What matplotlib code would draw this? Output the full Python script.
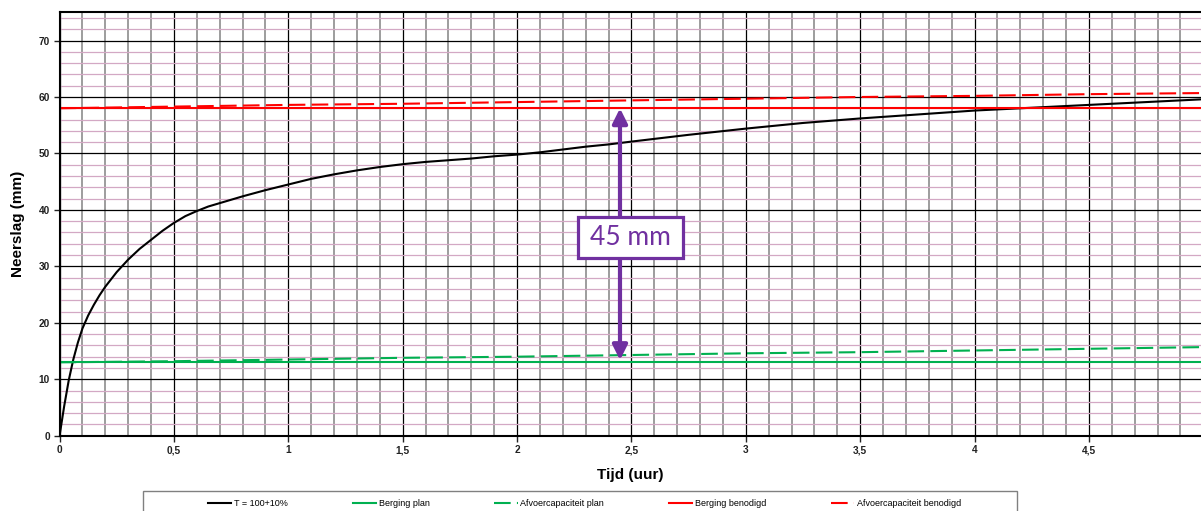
import matplotlib
matplotlib.use("Agg")
import matplotlib.pyplot as plt
from matplotlib.patches import Rectangle
from matplotlib.ticker import MultipleLocator, FuncFormatter

# ==============================
# Data
# ==============================
t_curve = [0, 0.02, 0.04, 0.06, 0.08, 0.1, 0.125, 0.15, 0.175, 0.2, 0.25, 0.3, 0.35,
           0.4, 0.45, 0.5, 0.55, 0.6, 0.65, 0.7, 0.8, 0.9, 1.0, 1.1, 1.2, 1.3, 1.4,
           1.5, 1.6, 1.7, 1.8, 1.9, 2.0, 2.1, 2.2, 2.3, 2.4, 2.5, 2.75, 3.0, 3.25,
           3.5, 3.75, 4.0, 4.25, 4.5, 4.75, 5.0]
neerslag = [0, 5.2, 9.8, 13.5, 16.5, 19.0, 21.3, 23.2, 24.9, 26.4, 29.0, 31.2, 33.1,
            34.7, 36.3, 37.7, 38.9, 39.8, 40.6, 41.2, 42.4, 43.5, 44.5, 45.5, 46.3, 47.0, 47.6,
            48.1, 48.5, 48.8, 49.1, 49.5, 49.8, 50.2, 50.7, 51.2, 51.6, 52.1, 53.3, 54.4, 55.4,
            56.2, 56.9, 57.6, 58.1, 58.6, 59.1, 59.6]

t_lines = [0, 0.5, 1, 1.5, 2, 2.5, 3, 3.5, 4, 4.5, 5]
berging_plan = [13.0] * len(t_lines)
afvoer_plan = [13.0, 13.2, 13.5, 13.8, 14.0, 14.3, 14.6, 14.8, 15.1, 15.4, 15.7]
berging_benodigd = [58.0] * len(t_lines)
afvoer_benodigd = [58.0, 58.3, 58.6, 58.8, 59.1, 59.4, 59.7, 60.0, 60.2, 60.5, 60.7]

labels = ["T = 100+10%", "Berging plan", "Afvoercapaciteit plan",
          "Berging benodigd", "Afvoercapaciteit benodigd"]

# annotation: verschil tussen benodigde berging en berging plan
arrow_t = 2.45
arrow_top, arrow_bottom = 58.0, 13.4
note_text = "45 mm"
note_x, note_y = 2.496, 35.1

PURPLE = "#7030a0"
GREEN = "#00b050"
RED = "#ff0000"

# ==============================
# Figure
# ==============================
W, H = 1201, 511
fig = plt.figure(figsize=(W / 100, H / 100), dpi=100)
ax = fig.add_axes([0.0496, 0.1473, 0.9504, 0.8286])

ax.set_xlim(0, 4.99)
ax.set_ylim(0, 75)

ax.xaxis.set_major_locator(MultipleLocator(0.5))
ax.xaxis.set_minor_locator(MultipleLocator(0.1))
ax.yaxis.set_minor_locator(MultipleLocator(2))
ax.xaxis.set_major_formatter(FuncFormatter(lambda v, p: f"{v:g}".replace(".", ",")))
ax.set_yticks(range(0, 71, 10))

ax.grid(which="major", axis="x", color="black", lw=0.9)
ax.grid(which="minor", axis="x", color="#8c8c8c", lw=1.2)
ax.grid(which="major", axis="y", color="black", lw=0.9)
ax.grid(which="minor", axis="y", color="#d3a8c4", lw=0.9)
ax.set_axisbelow(True)

ax.tick_params(which="minor", length=0)
ax.tick_params(which="major", length=4, width=1, pad=3, labelsize=7.3, colors="#222222")
for lab in ax.get_xticklabels() + ax.get_yticklabels():
    lab.set_fontweight("bold")
    lab.set_family("Liberation Sans")

for s in ["left", "bottom", "top"]:
    ax.spines[s].set_linewidth(1.5)
ax.spines["right"].set_visible(False)

ax.set_xlabel("Tijd (uur)", fontsize=11, fontweight="bold", family="Liberation Sans", labelpad=9)
ax.set_ylabel("Neerslag (mm)", fontsize=11, fontweight="bold", family="Liberation Sans",
              va="center")
ax.yaxis.set_label_coords(-0.0365, 0.5)

# ==============================
# Lines
# ==============================
dash = (0, (8, 3))
h1, = ax.plot(t_curve, neerslag, color="black", lw=1.5)
h2, = ax.plot(t_lines, berging_plan, color=GREEN, lw=1.5)
h3, = ax.plot(t_lines, afvoer_plan, color=GREEN, lw=1.5, ls=dash)
h4, = ax.plot(t_lines, berging_benodigd, color=RED, lw=1.5)
h5, = ax.plot(t_lines, afvoer_benodigd, color=RED, lw=1.5, ls=dash)

# ==============================
# Annotation arrow + box
# ==============================
ax.annotate("", xy=(arrow_t, arrow_bottom), xytext=(arrow_t, arrow_top),
            arrowprops=dict(arrowstyle="<|-|>", color=PURPLE, lw=3,
                            mutation_scale=22, shrinkA=0, shrinkB=0), zorder=5)
# box size in pixels -> data units
bw = 105 / (ax.get_position().width * W) * 4.99
bh = 41 / (ax.get_position().height * H) * 75
ax.add_patch(Rectangle((note_x - bw / 2, note_y - bh / 2), bw, bh, fc="white",
                       ec=PURPLE, lw=2.3, zorder=6))
ax.text(note_x, note_y, note_text, ha="center", va="center", fontsize=19,
        family="Lato", color=PURPLE, zorder=7)

# ==============================
# Legend
# ==============================
fig.patches.append(Rectangle((143 / W, -0.05), (1017 - 143) / W, 0.05 + 20 / H,
                             transform=fig.transFigure, fill=False, ec="#808080", lw=1))
fig.legend([h1, h2, h3, h4, h5], labels, loc="center left",
           bbox_to_anchor=(208 / W, 1 - 503.5 / H), ncol=5, frameon=False,
           prop={"family": "Liberation Sans", "size": 6.5},
           handlelength=2.6, handletextpad=0.3, columnspacing=7.15,
           borderpad=0, borderaxespad=0)

fig.savefig("out.png", dpi=100)
